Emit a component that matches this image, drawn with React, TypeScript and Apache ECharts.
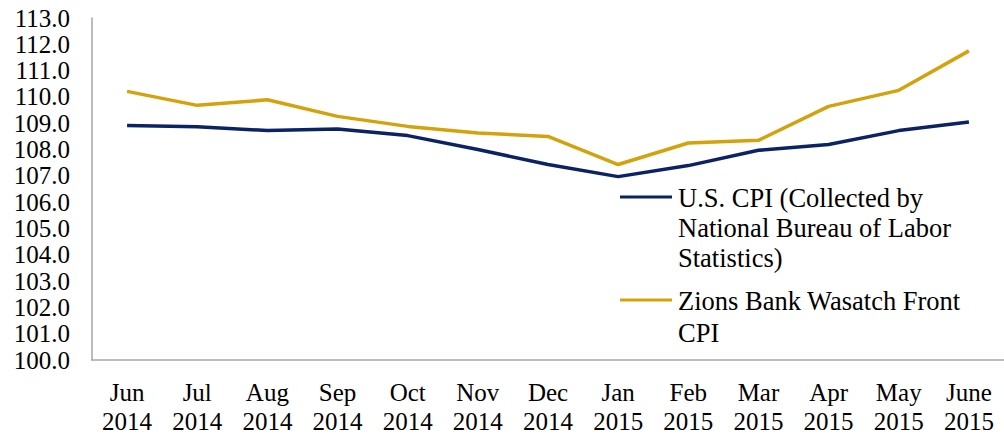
import React, { useEffect, useRef } from "react";
import * as echarts from "echarts";

const categories = [
  "Jun\n2014", "Jul\n2014", "Aug\n2014", "Sep\n2014", "Oct\n2014", "Nov\n2014", "Dec\n2014",
  "Jan\n2015", "Feb\n2015", "Mar\n2015", "Apr\n2015", "May\n2015", "June\n2015",
];
const usCpiName = "U.S. CPI (Collected by\nNational Bureau of Labor\nStatistics)";
const zionsName = "Zions Bank Wasatch Front\nCPI";
const usCpi = [108.91, 108.87, 108.72, 108.78, 108.53, 108.0, 107.43, 106.97, 107.39, 107.97, 108.19, 108.72, 109.05];
const zionsCpi = [110.21, 109.68, 109.89, 109.26, 108.88, 108.63, 108.5, 107.43, 108.25, 108.35, 109.64, 110.25, 111.75];

const NAVY = "#0b2265";
const GOLD = "#d4a20c";
const FONT = "Liberation Serif";
const FS = 25;
const LFS = 26.5;

export default function App() {
  const ref = useRef<HTMLDivElement>(null);
  useEffect(() => {
    if (!ref.current) return;
    const chart = echarts.init(ref.current, undefined, { renderer: "svg" });
    chart.setOption({
      animation: false,
      textStyle: { fontFamily: FONT },
      grid: { left: 92, top: 18, width: 916, height: 343, containLabel: false },
      xAxis: {
        type: "category",
        data: categories,
        boundaryGap: true,
        axisLine: { lineStyle: { color: "#a6a6a6", width: 1.5 } },
        axisTick: { show: false },
        axisLabel: {
          color: "#000",
          fontFamily: FONT,
          fontSize: FS,
          lineHeight: 29,
          margin: 18,
          interval: 0,
        },
      },
      yAxis: {
        type: "value",
        min: 100,
        max: 113,
        interval: 1,
        axisLine: { show: true, lineStyle: { color: "#a6a6a6", width: 1.5 } },
        axisTick: { show: false },
        splitLine: { show: false },
        axisLabel: {
          color: "#000",
          fontFamily: FONT,
          fontSize: FS,
          margin: 22,
          formatter: (v: number) => v.toFixed(1),
        },
      },
      series: [
        {
          name: usCpiName,
          type: "line",
          data: usCpi,
          symbol: "none",
          lineStyle: { color: NAVY, width: 3.5 },
          itemStyle: { color: NAVY },
        },
        {
          name: zionsName,
          type: "line",
          data: zionsCpi,
          symbol: "none",
          lineStyle: { color: GOLD, width: 3.5 },
          itemStyle: { color: GOLD },
        },
      ],
      graphic: [
        { type: "line", shape: { x1: 620, y1: 197, x2: 672, y2: 197 }, style: { stroke: NAVY, lineWidth: 3 } },
        {
          type: "text",
          x: 678,
          y: 183,
          style: { text: usCpiName, fontFamily: FONT, fontSize: LFS, fill: "#000", lineHeight: 30, verticalAlign: "top" },
        },
        { type: "line", shape: { x1: 620, y1: 300, x2: 672, y2: 300 }, style: { stroke: GOLD, lineWidth: 3 } },
        {
          type: "text",
          x: 678,
          y: 285,
          style: { text: zionsName, fontFamily: FONT, fontSize: LFS, fill: "#000", lineHeight: 32, verticalAlign: "top" },
        },
      ],
    });
    return () => chart.dispose();
  }, []);
  return <div ref={ref} style={{ width: 1004, height: 436, position: "absolute", left: 0, top: 0 }} />;
}
